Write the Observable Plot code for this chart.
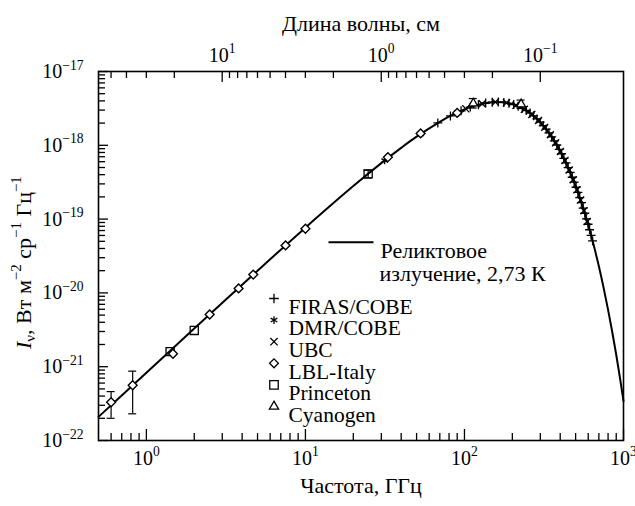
<!DOCTYPE html>
<html><head><meta charset="utf-8">
<script src="https://cdn.jsdelivr.net/npm/d3@7"></script>
<script src="https://cdn.jsdelivr.net/npm/@observablehq/plot@0.6"></script>
<style>
body{margin:0;background:#fff;}
#chart svg{display:block;}
#chart svg text{font-family:"Liberation Serif","Times New Roman",serif;}
</style></head><body><div id="chart"></div>
<script>
// ---- data ----
const curveFreq = [0.5, 1, 2, 5, 10, 20, 30, 40, 50, 70, 85, 100, 115, 130, 145, 160, 180, 200, 225, 250, 275, 300, 350, 400, 450, 500, 550, 600, 650, 700, 750, 800, 850, 900, 950, 1000];
const curveI = [2.09e-22, 8.30e-22, 3.29e-21, 2.00e-20, 7.66e-20, 2.80e-19, 5.73e-19, 9.24e-19, 1.31e-18, 2.08e-18, 2.62e-18, 3.07e-18, 3.42e-18, 3.66e-18, 3.81e-18, 3.85e-18, 3.79e-18, 3.61e-18, 3.28e-18, 2.88e-18, 2.46e-18, 2.05e-18, 1.35e-18, 8.33e-19, 4.92e-19, 2.81e-19, 1.55e-19, 8.36e-20, 4.41e-20, 2.29e-20, 1.17e-20, 5.89e-21, 2.93e-21, 1.45e-21, 7.05e-22, 3.42e-22];

const firasFreq = [68.0, 81.6, 95.2, 108.8, 122.4, 136.0, 149.6, 163.2, 176.8, 190.4, 204.0, 217.6, 231.2, 244.8, 258.4, 272.0, 285.6, 299.2, 312.8, 326.4, 340.0, 353.6, 367.2, 380.8, 394.4, 408.0, 421.6, 435.2, 448.8, 462.4, 476.0, 489.6, 503.2, 516.8, 530.4, 544.0, 557.6, 571.2, 584.8, 598.4, 612.0, 625.6, 639.2];
const firasI = [2.01e-18, 2.50e-18, 2.93e-18, 3.29e-18, 3.55e-18, 3.73e-18, 3.83e-18, 3.85e-18, 3.81e-18, 3.71e-18, 3.56e-18, 3.38e-18, 3.18e-18, 2.96e-18, 2.73e-18, 2.51e-18, 2.28e-18, 2.06e-18, 1.85e-18, 1.66e-18, 1.47e-18, 1.30e-18, 1.15e-18, 1.01e-18, 8.81e-19, 7.68e-19, 6.67e-19, 5.78e-19, 4.99e-19, 4.29e-19, 3.69e-19, 3.16e-19, 2.70e-19, 2.30e-19, 1.96e-19, 1.67e-19, 1.41e-19, 1.20e-19, 1.01e-19, 8.52e-20, 7.17e-20, 6.03e-20, 5.07e-20];

const dmrFreq = [31.5, 53, 90];
const dmrI = [6.22e-19, 1.42e-18, 2.78e-18];

const ubcFreq = [102.0, 129.2, 156.4, 183.6, 210.8, 238.0, 265.2, 292.4, 319.6, 346.8, 374.0, 401.2, 428.4, 455.6, 482.8, 510.0, 537.2, 564.4, 591.6];
const ubcI = [3.12e-18, 3.65e-18, 3.85e-18, 3.76e-18, 3.48e-18, 3.07e-18, 2.62e-18, 2.17e-18, 1.75e-18, 1.39e-18, 1.08e-18, 8.23e-19, 6.21e-19, 4.63e-19, 3.41e-19, 2.49e-19, 1.81e-19, 1.30e-19, 9.27e-20];

const lblFreq = [0.6, 0.82, 1.47, 2.5, 3.8, 4.7, 7.5, 10, 33, 53, 90];
const lblI = [3.3e-22, 5.6e-22, 1.5e-21, 5.1e-21, 1.15e-20, 1.77e-20, 4.4e-20, 7.4e-20, 6.9e-19, 1.45e-18, 2.75e-18];
const lblErrFreq = [0.6, 0.82];
const lblErrLo = [2.0e-22, 2.3e-22];
const lblErrHi = [4.6e-22, 8.7e-22];

const princetonFreq = [1.41, 2.0, 24.8];
const princetonI = [1.6e-21, 3.1e-21, 4.1e-19];
const princetonErrLo = [1.6e-21, 3.1e-21, 3.6e-19];
const princetonErrHi = [1.6e-21, 3.1e-21, 4.6e-19];

const cyanogenFreq = [113.6, 227];
const cyanogenI = [3.7e-18, 3.6e-18];
const cyanogenErrLo = [3.2e-18, 3.15e-18];
const cyanogenErrHi = [4.3e-18, 4.1e-18];

// axes
const xMajor = [1, 10, 100, 1000];
const xTickLabels = ["10^{0}", "10^{1}", "10^{2}", "10^{3}"];
const xMinor = [0.6,0.7,0.8,0.9, 2,3,4,5,6,7,8,9, 20,30,40,50,60,70,80,90, 200,300,400,500,600,700,800,900];
const yMajor = [1e-22, 1e-21, 1e-20, 1e-19, 1e-18, 1e-17];
const yTickLabels = ["10^{−22}", "10^{−21}", "10^{−20}", "10^{−19}", "10^{−18}", "10^{−17}"];
const yMinorMant = [2,3,4,5,6,7,8,9];
const topMajorLambda = [10, 1, 0.1];
const topTickLabels = ["10^{1}", "10^{0}", "10^{−1}"];
const topMinorLambda = [50,40,30,20, 9,8,7,6,5,4,3,2, 0.9,0.8,0.7,0.6,0.5,0.4,0.3,0.2];
const C_CM_GHZ = 29.9792458; // λ[cm] = c / ν[GHz]

const legendLabels = ["FIRAS/COBE", "DMR/COBE", "UBC", "LBL-Italy", "Princeton", "Cyanogen"];
const legendSymbols = ["plus", "asterisk", "times", "diamond2", "square2", "triangle2"];
const curveLabel = ["Реликтовое", "излучение, 2,73 К"];
const xTitle = "Частота, ГГц";
const topTitle = "Длина волны, см";
const yTitle = "*I*_{ν}, Вт м^{−2} ср^{−1} Гц^{−1}";

// ---- layout ----
const W = 635, H = 506, mL = 98, mR = 12, mT = 71, mB = 66;
const iw = W - mL - mR, ih = H - mT - mB;
const FONT = "'Liberation Serif', 'Times New Roman', serif";

const zip = (a, b) => a.map((v, i) => ({f: v, I: b[i]}));
const curve = zip(curveFreq, curveI);
const firas = zip(firasFreq, firasI);
const dmr = zip(dmrFreq, dmrI);
const ubc = zip(ubcFreq, ubcI);
const lbl = zip(lblFreq, lblI);
const princeton = zip(princetonFreq, princetonI);
const cyanogen = zip(cyanogenFreq, cyanogenI);
const errs = [
  ...lblErrFreq.map((f, i) => ({f, lo: lblErrLo[i], hi: lblErrHi[i]})),
  ...princetonFreq.map((f, i) => ({f, lo: princetonErrLo[i], hi: princetonErrHi[i]})).filter(d => d.hi > d.lo),
  ...cyanogenFreq.map((f, i) => ({f, lo: cyanogenErrLo[i], hi: cyanogenErrHi[i]}))
];
const caps = errs.flatMap(d => [{f: d.f, I: d.lo}, {f: d.f, I: d.hi}]);
const yMinor = yMajor.slice(0, -1).flatMap(p => yMinorMant.map(m => m * p));

const lineSymbol = {draw(ctx) { ctx.moveTo(-22.5, 0); ctx.lineTo(22.5, 0); }};

const symR = {plus: 3.2, asterisk: 3.6, times: 3.4, diamond2: 4.0, square2: 5.4, triangle2: 4.4};
const legendMarks = legendLabels.flatMap((lab, i) => {
  const dy = 227 + i * 21.6;
  const s = legendSymbols[i];
  return [
    Plot.dot([0], {x: null, y: null, frameAnchor: "top-left", dx: 175.5, dy, symbol: s, r: symR[s],
      stroke: "black", strokeWidth: 1.3, fill: s.endsWith("2") ? "white" : "none"}),
    Plot.text([lab], {frameAnchor: "top-left", dx: 190, dy, text: d => d, textAnchor: "start", fontSize: 21.5, fontFamily: FONT, fill: "black"})
  ];
});

const plot = Plot.plot({
  width: W, height: H,
  marginLeft: mL, marginRight: mR, marginTop: mT, marginBottom: mB,
  x: {type: "log", domain: [0.5, 1000], axis: null},
  y: {type: "log", domain: [1e-22, 1e-17], axis: null},
  style: {fontFamily: FONT, background: "white", color: "black"},
  marks: [
    // ticks (inward)
    Plot.ruleX(xMajor, {x: d => d, insetTop: ih - 11, stroke: "black", strokeWidth: 1.3}),
    Plot.ruleX(xMinor, {x: d => d, insetTop: ih - 7, stroke: "black", strokeWidth: 1.3}),
    Plot.ruleX(topMajorLambda, {x: d => C_CM_GHZ / d, insetBottom: ih - 11, stroke: "black", strokeWidth: 1.3}),
    Plot.ruleX(topMinorLambda, {x: d => C_CM_GHZ / d, insetBottom: ih - 7, stroke: "black", strokeWidth: 1.3}),
    Plot.ruleY(yMajor, {y: d => d, insetRight: iw - 10, stroke: "black", strokeWidth: 1.3}),
    Plot.ruleY(yMinor, {y: d => d, insetRight: iw - 7, stroke: "black", strokeWidth: 1.3}),
    Plot.frame({stroke: "black", strokeWidth: 1.6}),
    // tick labels
    Plot.text(xMajor, {x: d => d, frameAnchor: "bottom", dy: 24, text: (d, i) => xTickLabels[i], fontSize: 20, fontFamily: FONT, fill: "black"}),
    Plot.text(yMajor, {y: d => d, frameAnchor: "left", dx: -15, textAnchor: "end", text: (d, i) => yTickLabels[i], fontSize: 20, fontFamily: FONT, fill: "black"}),
    Plot.text(topMajorLambda, {x: d => C_CM_GHZ / d, frameAnchor: "top", dy: -24, text: (d, i) => topTickLabels[i], fontSize: 20, fontFamily: FONT, fill: "black"}),
    // titles
    Plot.text([xTitle], {frameAnchor: "bottom", dy: 52, text: d => d, fontSize: 22, fontFamily: FONT, fill: "black"}),
    Plot.text([topTitle], {frameAnchor: "top", dy: -56, text: d => d, fontSize: 22, fontFamily: FONT, fill: "black"}),
    Plot.text([yTitle], {frameAnchor: "left", dx: -75, dy: 93, rotate: -90, textAnchor: "start", text: d => d, fontSize: 22, fontFamily: FONT, fill: "black"}),
    // blackbody curve
    Plot.line(curve, {x: "f", y: "I", curve: "catmull-rom", stroke: "black", strokeWidth: 2}),
    // error bars
    Plot.ruleX(errs, {x: "f", y1: "lo", y2: "hi", stroke: "black", strokeWidth: 1.2}),
    Plot.ruleY(caps, {y: "I", x1: "f", x2: "f", insetLeft: -4, insetRight: -4, stroke: "black", strokeWidth: 1.2}),
    // data
    Plot.dot(firas, {x: "f", y: "I", symbol: "plus", r: 3.0, stroke: "black", strokeWidth: 1.3}),
    Plot.dot(ubc, {x: "f", y: "I", symbol: "times", r: 3.3, stroke: "black", strokeWidth: 1.3}),
    Plot.dot(dmr, {x: "f", y: "I", symbol: "asterisk", r: 3.6, stroke: "black", strokeWidth: 1.3}),
    Plot.dot(princeton, {x: "f", y: "I", symbol: "square2", r: 5.2, stroke: "black", strokeWidth: 1.3, fill: "none"}),
    Plot.dot(lbl, {x: "f", y: "I", symbol: "diamond2", r: 4.0, stroke: "black", strokeWidth: 1.4, fill: "white"}),
    Plot.dot(cyanogen, {x: "f", y: "I", symbol: "triangle2", r: 4.2, stroke: "black", strokeWidth: 1.3, fill: "white"}),
    // curve legend
    Plot.dot([0], {x: null, y: null, frameAnchor: "top-left", dx: 252.5, dy: 170.7, symbol: lineSymbol, stroke: "black", strokeWidth: 2, fill: "none"}),
    Plot.text([curveLabel[0]], {frameAnchor: "top-left", dx: 282, dy: 170.7, text: d => d, textAnchor: "start", fontSize: 22, fontFamily: FONT, fill: "black"}),
    Plot.text([curveLabel[1]], {frameAnchor: "top-left", dx: 281, dy: 194, text: d => d, textAnchor: "start", fontSize: 22, fontFamily: FONT, fill: "black"}),
    ...legendMarks
  ]
});

// rich text: ^{sup}, _{sub}, *italic*
function richify(svg) {
  const NS = "http://www.w3.org/2000/svg";
  svg.querySelectorAll("text").forEach(el => {
    const targets = el.querySelector("tspan") ? Array.from(el.querySelectorAll("tspan")) : [el];
    targets.forEach(n => {
      const t = n.textContent;
      if (!/\^\{|_\{|\*/.test(t)) return;
      const parts = t.split(/(\^\{[^}]*\}|_\{[^}]*\}|\*[^*]*\*)/).filter(s => s !== "");
      n.textContent = "";
      let shift = 0;
      for (const p of parts) {
        const ts = document.createElementNS(NS, "tspan");
        let txt = p, target = 0, small = false;
        if (p.startsWith("^{")) { txt = p.slice(2, -1); target = -0.42; small = true; }
        else if (p.startsWith("_{")) { txt = p.slice(2, -1); target = 0.22; small = true; }
        else if (p.startsWith("*")) { txt = p.slice(1, -1); ts.setAttribute("font-style", "italic"); }
        const delta = target - shift;
        shift = target;
        if (small) ts.setAttribute("font-size", "68%");
        if (delta) ts.setAttribute("dy", (small ? delta / 0.68 : delta).toFixed(3) + "em");
        ts.textContent = txt;
        n.appendChild(ts);
      }
    });
  });
}
richify(plot);
document.getElementById("chart").appendChild(plot);
</script></body></html>
